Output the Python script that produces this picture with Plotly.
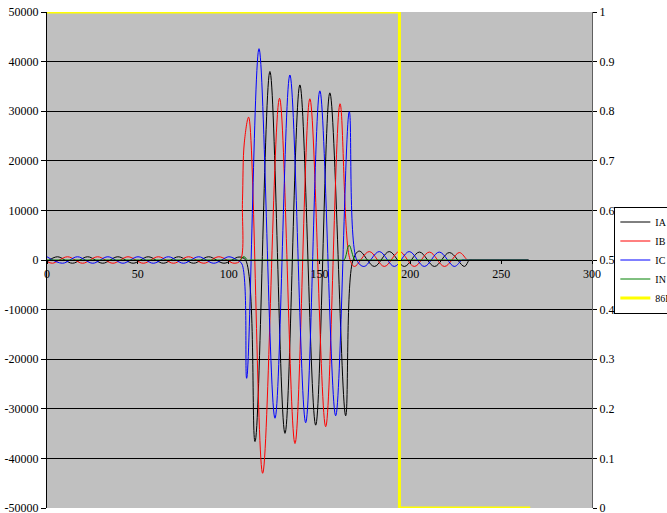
import plotly.graph_objects as go

# ---- data ----
IA_x = [0, 5.7, 14.0, 22.4, 30.7, 39.0, 47.4, 55.7, 64.0, 72.4, 80.7, 89.0, 97.4, 105.7, 109.3,
        114.5, 122.7, 131.0, 139.2, 147.9, 155.7, 164.4, 168.3, 171.9, 180.2, 188.4, 196.7, 205.0,
        213.3, 221.5, 229.8, 232.5, 234.0, 240.0, 265.0]
IA_y = [-350, 650, -650, 650, -650, 650, -650, 650, -650, 650, -650, 650, -650, 600, 0,
        -36600, 38000, -34950, 35300, -33300, 33700, -31400, -200, 1800, -1300, 1700, -1300, 1600,
        -1300, 1500, -1300, 0, 0, 0, 0]

IB_x = [0, 3.0, 11.3, 19.6, 27.9, 36.3, 44.6, 53.0, 61.3, 69.6, 77.9, 86.3, 94.6, 103.0, 106.4,
        107.6, 108.6, 111.0, 118.7, 128.0, 136.5, 144.7, 153.4, 161.3, 166.5, 169.2, 177.4, 185.7,
        194.0, 202.2, 210.5, 218.8, 227.0, 231.5, 233.0, 240.0, 265.0]
IB_y = [-290, -650, 650, -650, 650, -650, 650, -650, 650, -650, 650, -650, 650, -650, -100,
        12000, 23600, 28800, -43000, 32600, -37000, 32500, -33600, 31500, 500, -1300, 1700, -1300,
        1700, -1300, 1600, -1300, 1500, 0, 0, 0, 0]

IC_x = [0, 8.5, 16.8, 25.2, 33.5, 41.8, 50.1, 58.5, 66.8, 75.1, 83.5, 91.8, 100.1, 104.5, 107.3,
        109.9, 116.7, 125.5, 133.7, 142.4, 150.2, 158.9, 166.4, 170.5, 174.6, 182.9, 191.2, 199.4,
        207.7, 215.9, 224.2, 228.5, 230.0, 240.0, 265.0]
IC_y = [650, -650, 650, -650, 650, -650, 650, -650, 650, -650, 650, -650, 650, 0, -800,
        -23850, 42600, -31900, 37300, -32800, 34100, -31400, 29900, 0, -1300, 1700, -1300, 1700,
        -1300, 1600, -1300, 0, 0, 0, 0]

IN_x = [0, 104.0, 106.5, 108.4, 110.3, 112.5, 150.0, 161.0, 163.5, 166.3, 169.5, 171.5, 200.0, 265.0]
IN_y = [0, 0, 0, 700, 0, 0, 0, 0, 0, 3000, 0, 0, 0, 0]

B86_x = [0, 194, 194, 266]
B86_y = [1, 1, 0, 0]

left_ticks = [-50000, -40000, -30000, -20000, -10000, 0, 10000, 20000, 30000, 40000, 50000]
left_labels = ["-50000", "-40000", "-30000", "-20000", "-10000", "0",
               "10000", "20000", "30000", "40000", "50000"]
right_ticks = [0, 0.1, 0.2, 0.3, 0.4, 0.5, 0.6, 0.7, 0.8, 0.9, 1]
right_labels = ["0", "0.1", "0.2", "0.3", "0.4", "0.5", "0.6", "0.7", "0.8", "0.9", "1"]
x_ticks = [0, 50, 100, 150, 200, 250, 300]

FONT = "Liberation Serif"

fig = go.Figure()
fig.add_trace(go.Scatter(x=IA_x, y=IA_y, name="IA", mode="lines",
                         line=dict(color="#000000", width=1, shape="spline", smoothing=1.0)))
fig.add_trace(go.Scatter(x=IB_x, y=IB_y, name="IB", mode="lines",
                         line=dict(color="#FF0000", width=1, shape="spline", smoothing=1.0)))
fig.add_trace(go.Scatter(x=IC_x, y=IC_y, name="IC", mode="lines",
                         line=dict(color="#0000FF", width=1, shape="spline", smoothing=1.0)))
fig.add_trace(go.Scatter(x=IN_x, y=IN_y, name="IN", mode="lines",
                         line=dict(color="#008000", width=1, shape="spline", smoothing=1.0)))
fig.add_trace(go.Scatter(x=B86_x, y=B86_y, name="86B", mode="lines", yaxis="y2",
                         line=dict(color="#FFFF00", width=3)))

fig.update_layout(
    width=667, height=513,
    margin=dict(l=47, r=75, t=12, b=5, autoexpand=False),
    paper_bgcolor="white",
    plot_bgcolor="#C0C0C0",
    font=dict(family=FONT, size=12, color="black"),
    showlegend=True,
    legend=dict(x=1.041, xanchor="left", y=0.5, yanchor="middle",
                bgcolor="white", bordercolor="black", borderwidth=1,
                font=dict(family=FONT, size=10, color="black"),
                tracegroupgap=0, itemwidth=30),
    xaxis=dict(range=[0, 300], tickvals=x_ticks, ticktext=[str(v) for v in x_ticks],
               anchor="free", position=0.5, showgrid=False, zeroline=False,
               showline=True, linecolor="black", linewidth=1, automargin=False,
               ticks="outside", ticklen=3, tickcolor="black", ticklabeloverflow="allow",
               tickfont=dict(family=FONT, size=12, color="black")),
    yaxis=dict(range=[-50000, 50000], tickvals=left_ticks, ticktext=left_labels,
               domain=[0, 1], showgrid=True, gridcolor="black", gridwidth=1,
               zeroline=True, zerolinecolor="black", zerolinewidth=1,
               showline=True, linecolor="black", linewidth=1, automargin=False,
               ticks="outside", ticklen=5, tickcolor="black", ticklabeloverflow="allow",
               tickfont=dict(family=FONT, size=12, color="black")),
    yaxis2=dict(range=[0, 1], tickvals=right_ticks, ticktext=right_labels,
                overlaying="y", side="right", showgrid=False, zeroline=False,
                showline=True, linecolor="#606060", linewidth=1, automargin=False,
                ticks="outside", ticklen=4, tickcolor="black", ticklabeloverflow="allow",
                tickfont=dict(family=FONT, size=12, color="black")),
)

# remove the browser's default 8px body margin so the figure fills the window
fig.write_html("out.html",
               config={"displayModeBar": False},
               post_script="document.body.style.margin='0';document.body.style.overflow='hidden';")
